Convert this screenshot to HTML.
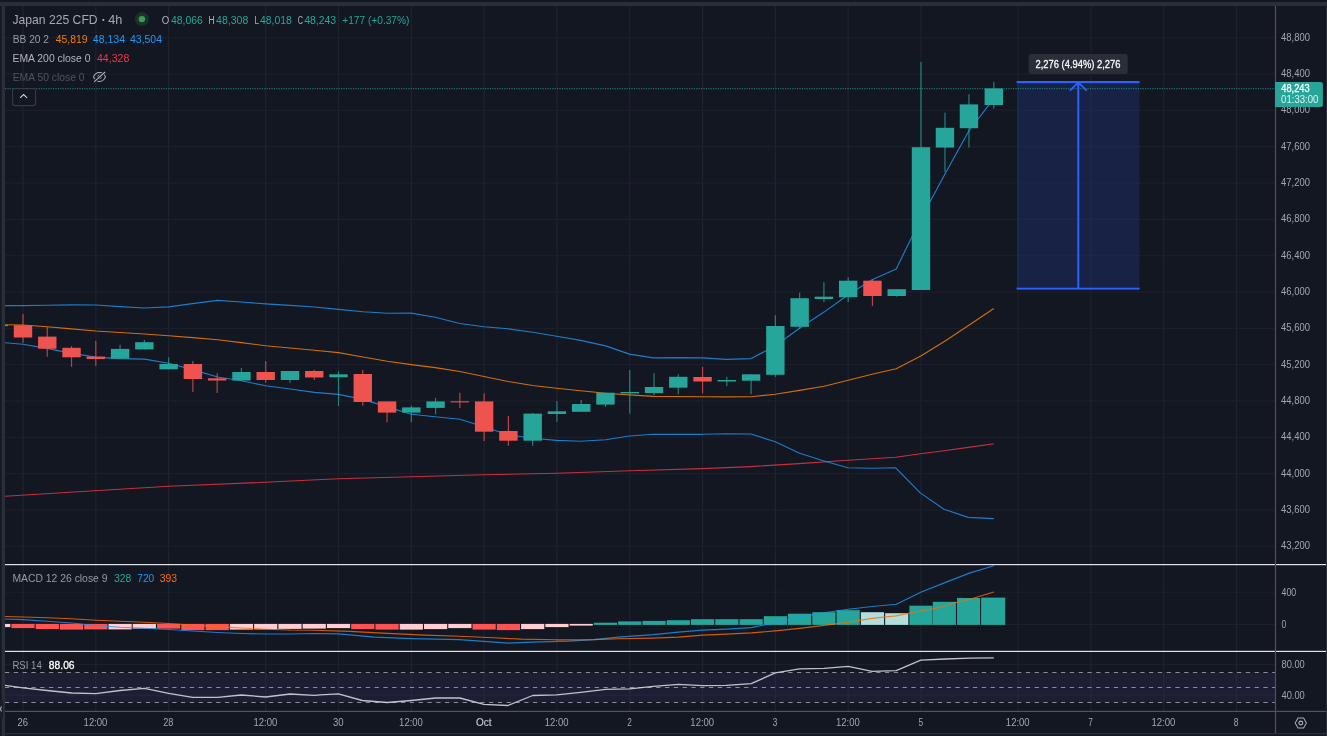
<!DOCTYPE html>
<html><head><meta charset="utf-8"><title>Japan 225 CFD</title>
<style>
html,body{margin:0;padding:0;background:#131722;overflow:hidden}
svg{display:block;font-family:"Liberation Sans",sans-serif}
</style></head>
<body>
<svg width="1327" height="736" viewBox="0 0 1327 736">
<defs><filter id="nf" x="0" y="0" width="100%" height="100%" filterUnits="userSpaceOnUse"><feOffset dx="0" dy="0" color-interpolation-filters="sRGB"/></filter></defs>
<g filter="url(#nf)">
<rect x="0" y="0" width="1327" height="736" fill="#131722"/>
<rect x="0" y="2" width="1327" height="4" fill="#2a2e39"/>
<rect x="1.6" y="2" width="3.5" height="736" fill="#2a2e39"/>
<rect x="1325.8" y="2" width="3" height="736" fill="#2a2e39"/>
<rect x="5" y="6" width="1320.8" height="727" rx="3.5" fill="#131722"/>
<rect x="5" y="400" width="1320.8" height="333" fill="#131722"/>
<rect x="1.6" y="733" width="1327" height="1.3" fill="#2a2e39"/>
<rect x="-2" y="700" width="5" height="18.5" rx="2" fill="#1a1e29"/>
<path d="M-1 706.5 L1.6 711.5 M1.6 706.5 L-1 711.5" stroke="#9ea1aa" stroke-width="1.1" fill="none"/>
<rect x="22.35" y="6" width="1.3" height="705" fill="#1e222d"/>
<rect x="95.16" y="6" width="1.3" height="705" fill="#1e222d"/>
<rect x="167.97" y="6" width="1.3" height="705" fill="#1e222d"/>
<rect x="265.05" y="6" width="1.3" height="705" fill="#1e222d"/>
<rect x="337.86" y="6" width="1.3" height="705" fill="#1e222d"/>
<rect x="410.67" y="6" width="1.3" height="705" fill="#1e222d"/>
<rect x="483.48" y="6" width="1.3" height="705" fill="#1e222d"/>
<rect x="556.29" y="6" width="1.3" height="705" fill="#1e222d"/>
<rect x="629.10" y="6" width="1.3" height="705" fill="#1e222d"/>
<rect x="701.91" y="6" width="1.3" height="705" fill="#1e222d"/>
<rect x="774.72" y="6" width="1.3" height="705" fill="#1e222d"/>
<rect x="847.53" y="6" width="1.3" height="705" fill="#1e222d"/>
<rect x="920.34" y="6" width="1.3" height="705" fill="#1e222d"/>
<rect x="1017.42" y="6" width="1.3" height="705" fill="#1e222d"/>
<rect x="1090.23" y="6" width="1.3" height="705" fill="#1e222d"/>
<rect x="1163.04" y="6" width="1.3" height="705" fill="#1e222d"/>
<rect x="1235.85" y="6" width="1.3" height="705" fill="#1e222d"/>
<rect x="5" y="37.10" width="1270.5" height="1.2" fill="#1c202b"/>
<rect x="5" y="73.43" width="1270.5" height="1.2" fill="#1c202b"/>
<rect x="5" y="109.76" width="1270.5" height="1.2" fill="#1c202b"/>
<rect x="5" y="146.09" width="1270.5" height="1.2" fill="#1c202b"/>
<rect x="5" y="182.42" width="1270.5" height="1.2" fill="#1c202b"/>
<rect x="5" y="218.75" width="1270.5" height="1.2" fill="#1c202b"/>
<rect x="5" y="255.08" width="1270.5" height="1.2" fill="#1c202b"/>
<rect x="5" y="291.41" width="1270.5" height="1.2" fill="#1c202b"/>
<rect x="5" y="327.74" width="1270.5" height="1.2" fill="#1c202b"/>
<rect x="5" y="364.07" width="1270.5" height="1.2" fill="#1c202b"/>
<rect x="5" y="400.40" width="1270.5" height="1.2" fill="#1c202b"/>
<rect x="5" y="436.73" width="1270.5" height="1.2" fill="#1c202b"/>
<rect x="5" y="473.06" width="1270.5" height="1.2" fill="#1c202b"/>
<rect x="5" y="509.39" width="1270.5" height="1.2" fill="#1c202b"/>
<rect x="5" y="545.72" width="1270.5" height="1.2" fill="#1c202b"/>
<rect x="5" y="591.60" width="1270.5" height="1.2" fill="#1c202b"/>
<rect x="5" y="623.90" width="1270.5" height="1.2" fill="#1c202b"/>
<rect x="5" y="663.80" width="1270.5" height="1.2" fill="#1c202b"/>
<rect x="5" y="694.70" width="1270.5" height="1.2" fill="#1c202b"/>
<rect x="5" y="672.5" width="1270.5" height="29.9" fill="#7e57c2" fill-opacity="0.105"/>
<line x1="5" x2="1275.5" y1="672.5" y2="672.5" stroke="#8a8d97" stroke-width="1.05" stroke-dasharray="4.3 4.5"/>
<line x1="5" x2="1275.5" y1="687.4" y2="687.4" stroke="#8a8d97" stroke-width="1.05" stroke-dasharray="4.3 4.5"/>
<line x1="5" x2="1275.5" y1="702.4" y2="702.4" stroke="#8a8d97" stroke-width="1.05" stroke-dasharray="4.3 4.5"/>
<rect x="1016.8" y="82" width="122.8" height="207" fill="#172244"/>
<rect x="1017.42" y="83" width="1.3" height="205" fill="#1f2c4f"/>
<rect x="1090.23" y="83" width="1.3" height="205" fill="#1f2c4f"/>
<rect x="1016.8" y="109.76" width="122.8" height="1.2" fill="#1c294c"/>
<rect x="1016.8" y="146.09" width="122.8" height="1.2" fill="#1c294c"/>
<rect x="1016.8" y="182.42" width="122.8" height="1.2" fill="#1c294c"/>
<rect x="1016.8" y="218.75" width="122.8" height="1.2" fill="#1c294c"/>
<rect x="1016.8" y="255.08" width="122.8" height="1.2" fill="#1c294c"/>
<polyline points="5.0,496.2 94.5,490.7 169.0,486.3 265.0,482.3 338.0,478.8 411.0,476.8 484.0,474.8 557.0,473.3 630.0,470.8 702.4,468.6 751.0,466.6 799.0,463.6 847.8,460.2 895.7,457.2 920.3,453.8 944.0,450.8 968.2,447.4 993.8,443.8" fill="none" stroke="#f23645" stroke-width="1.1" stroke-linejoin="round" stroke-opacity="0.8"/>
<polyline points="5.0,324.8 22.9,325.0 47.0,326.8 71.6,328.9 95.8,331.0 120.0,332.5 144.5,334.0 168.7,335.7 192.5,337.6 217.7,339.7 241.3,342.6 265.7,345.7 290.0,348.0 314.4,350.2 338.4,352.6 363.0,357.0 387.2,361.3 411.3,364.6 435.2,367.6 459.8,371.5 484.0,376.5 508.0,381.5 532.7,385.5 556.6,388.2 580.7,390.7 605.6,393.2 629.5,394.9 653.4,396.4 702.4,396.7 726.3,396.9 751.2,396.7 775.3,394.2 799.5,390.4 824.0,386.2 848.2,380.2 872.0,374.3 896.2,368.8 920.8,356.1 945.5,340.7 970.0,324.5 993.8,308.4" fill="none" stroke="#f57c00" stroke-width="1.15" stroke-linejoin="round" stroke-opacity="0.85"/>
<polyline points="5.0,305.6 22.9,305.6 47.0,305.2 72.0,304.9 95.8,305.0 120.0,306.6 144.3,308.0 168.7,306.9 192.5,303.6 217.7,300.4 241.3,302.0 265.7,303.9 290.0,305.4 314.4,307.0 338.4,309.4 363.0,311.8 387.2,313.3 411.3,313.1 435.2,317.3 459.8,323.5 484.0,326.8 508.0,328.8 532.7,332.2 556.6,336.2 580.7,340.4 605.6,345.9 629.5,354.1 653.4,357.9 678.3,357.6 702.4,357.9 726.3,359.4 751.2,358.6 775.3,345.7 799.5,328.3 824.0,312.1 848.2,294.7 872.0,279.8 896.2,269.0 920.7,219.0 945.0,174.0 968.8,131.0 993.8,98.7" fill="none" stroke="#2196f3" stroke-width="1.15" stroke-linejoin="round" stroke-opacity="0.8"/>
<polyline points="5.0,342.7 22.9,344.2 47.0,348.4 71.6,353.4 95.8,357.1 119.9,358.6 144.5,359.1 168.7,363.3 192.5,369.6 217.7,377.0 241.3,380.7 265.7,385.7 290.3,389.0 314.4,392.4 338.4,394.4 363.0,399.4 387.2,406.9 411.3,414.3 435.2,416.8 459.8,419.3 484.0,426.8 508.0,434.7 532.7,438.2 556.6,440.4 580.7,441.2 605.6,439.7 629.5,436.0 653.4,434.3 678.2,434.3 702.4,434.3 726.4,433.7 751.0,434.0 775.3,441.8 799.0,453.0 823.2,460.8 847.8,467.8 871.5,468.3 895.7,467.8 920.3,492.9 944.0,509.3 968.2,517.4 993.8,518.6" fill="none" stroke="#2196f3" stroke-width="1.15" stroke-linejoin="round" stroke-opacity="0.8"/>
<clipPath id="cc"><rect x="5" y="6" width="1270.5" height="727"/></clipPath>
<g clip-path="url(#cc)">
<rect x="-1.87" y="320.0" width="1.2" height="10.0" fill="#26a69a" opacity="0.75"/>
<rect x="-10.47" y="325.0" width="18.4" height="1.2" fill="#26a69a"/>
<rect x="22.40" y="313.9" width="1.2" height="29.0" fill="#ef5350" opacity="0.75"/>
<rect x="13.80" y="325.2" width="18.4" height="12.3" fill="#ef5350"/>
<rect x="46.67" y="327.2" width="1.2" height="29.5" fill="#ef5350" opacity="0.75"/>
<rect x="38.07" y="336.6" width="18.4" height="12.1" fill="#ef5350"/>
<rect x="70.94" y="346.0" width="1.2" height="20.8" fill="#ef5350" opacity="0.75"/>
<rect x="62.34" y="347.8" width="18.4" height="9.5" fill="#ef5350"/>
<rect x="95.21" y="340.8" width="1.2" height="25.2" fill="#ef5350" opacity="0.75"/>
<rect x="86.61" y="356.6" width="18.4" height="2.4" fill="#ef5350"/>
<rect x="119.48" y="344.7" width="1.2" height="13.9" fill="#26a69a" opacity="0.75"/>
<rect x="110.88" y="348.9" width="18.4" height="9.7" fill="#26a69a"/>
<rect x="143.75" y="340.0" width="1.2" height="9.4" fill="#26a69a" opacity="0.75"/>
<rect x="135.15" y="342.2" width="18.4" height="7.2" fill="#26a69a"/>
<rect x="168.02" y="357.4" width="1.2" height="11.9" fill="#26a69a" opacity="0.75"/>
<rect x="159.42" y="364.0" width="18.4" height="5.3" fill="#26a69a"/>
<rect x="192.29" y="361.0" width="1.2" height="31.0" fill="#ef5350" opacity="0.75"/>
<rect x="183.69" y="364.0" width="18.4" height="15.0" fill="#ef5350"/>
<rect x="216.56" y="373.3" width="1.2" height="19.7" fill="#ef5350" opacity="0.75"/>
<rect x="207.96" y="378.3" width="18.4" height="2.2" fill="#ef5350"/>
<rect x="240.83" y="368.0" width="1.2" height="12.5" fill="#26a69a" opacity="0.75"/>
<rect x="232.23" y="372.0" width="18.4" height="8.5" fill="#26a69a"/>
<rect x="265.10" y="361.0" width="1.2" height="21.7" fill="#ef5350" opacity="0.75"/>
<rect x="256.50" y="372.0" width="18.4" height="8.0" fill="#ef5350"/>
<rect x="289.37" y="371.0" width="1.2" height="11.7" fill="#26a69a" opacity="0.75"/>
<rect x="280.77" y="371.0" width="18.4" height="9.0" fill="#26a69a"/>
<rect x="313.64" y="369.8" width="1.2" height="10.2" fill="#ef5350" opacity="0.75"/>
<rect x="305.04" y="371.0" width="18.4" height="6.5" fill="#ef5350"/>
<rect x="337.91" y="371.3" width="1.2" height="34.7" fill="#26a69a" opacity="0.75"/>
<rect x="329.31" y="374.3" width="18.4" height="3.0" fill="#26a69a"/>
<rect x="362.18" y="370.0" width="1.2" height="35.6" fill="#ef5350" opacity="0.75"/>
<rect x="353.58" y="374.0" width="18.4" height="28.0" fill="#ef5350"/>
<rect x="386.45" y="401.4" width="1.2" height="20.9" fill="#ef5350" opacity="0.75"/>
<rect x="377.85" y="401.4" width="18.4" height="11.2" fill="#ef5350"/>
<rect x="410.72" y="405.6" width="1.2" height="16.7" fill="#26a69a" opacity="0.75"/>
<rect x="402.12" y="407.4" width="18.4" height="5.2" fill="#26a69a"/>
<rect x="434.99" y="398.0" width="1.2" height="16.3" fill="#26a69a" opacity="0.75"/>
<rect x="426.39" y="401.4" width="18.4" height="6.5" fill="#26a69a"/>
<rect x="459.26" y="392.7" width="1.2" height="15.3" fill="#ef5350" opacity="0.75"/>
<rect x="450.66" y="401.3" width="18.4" height="1.1" fill="#ef5350"/>
<rect x="483.53" y="393.4" width="1.2" height="47.6" fill="#ef5350" opacity="0.75"/>
<rect x="474.93" y="401.4" width="18.4" height="30.3" fill="#ef5350"/>
<rect x="507.80" y="416.0" width="1.2" height="29.7" fill="#ef5350" opacity="0.75"/>
<rect x="499.20" y="431.0" width="18.4" height="9.7" fill="#ef5350"/>
<rect x="532.07" y="413.0" width="1.2" height="32.7" fill="#26a69a" opacity="0.75"/>
<rect x="523.47" y="413.6" width="18.4" height="27.1" fill="#26a69a"/>
<rect x="556.34" y="401.0" width="1.2" height="20.8" fill="#26a69a" opacity="0.75"/>
<rect x="547.74" y="411.3" width="18.4" height="2.7" fill="#26a69a"/>
<rect x="580.61" y="400.0" width="1.2" height="11.8" fill="#26a69a" opacity="0.75"/>
<rect x="572.01" y="404.0" width="18.4" height="7.8" fill="#26a69a"/>
<rect x="604.88" y="392.7" width="1.2" height="14.3" fill="#26a69a" opacity="0.75"/>
<rect x="596.28" y="392.7" width="18.4" height="11.9" fill="#26a69a"/>
<rect x="629.15" y="370.0" width="1.2" height="43.6" fill="#26a69a" opacity="0.75"/>
<rect x="620.55" y="392.0" width="18.4" height="1.4" fill="#26a69a"/>
<rect x="653.42" y="373.3" width="1.2" height="22.1" fill="#26a69a" opacity="0.75"/>
<rect x="644.82" y="387.0" width="18.4" height="6.0" fill="#26a69a"/>
<rect x="677.69" y="374.3" width="1.2" height="19.9" fill="#26a69a" opacity="0.75"/>
<rect x="669.09" y="376.8" width="18.4" height="10.9" fill="#26a69a"/>
<rect x="701.96" y="367.0" width="1.2" height="26.4" fill="#ef5350" opacity="0.75"/>
<rect x="693.36" y="377.0" width="18.4" height="4.5" fill="#ef5350"/>
<rect x="726.23" y="376.8" width="1.2" height="9.4" fill="#26a69a" opacity="0.75"/>
<rect x="717.63" y="380.0" width="18.4" height="1.5" fill="#26a69a"/>
<rect x="750.50" y="374.3" width="1.2" height="19.9" fill="#26a69a" opacity="0.75"/>
<rect x="741.90" y="374.3" width="18.4" height="6.4" fill="#26a69a"/>
<rect x="774.77" y="315.3" width="1.2" height="61.5" fill="#26a69a" opacity="0.75"/>
<rect x="766.17" y="326.0" width="18.4" height="48.8" fill="#26a69a"/>
<rect x="799.04" y="292.7" width="1.2" height="36.3" fill="#26a69a" opacity="0.75"/>
<rect x="790.44" y="298.2" width="18.4" height="28.6" fill="#26a69a"/>
<rect x="823.31" y="282.2" width="1.2" height="19.8" fill="#26a69a" opacity="0.75"/>
<rect x="814.71" y="296.7" width="18.4" height="2.3" fill="#26a69a"/>
<rect x="847.58" y="277.3" width="1.2" height="24.7" fill="#26a69a" opacity="0.75"/>
<rect x="838.98" y="280.7" width="18.4" height="16.5" fill="#26a69a"/>
<rect x="871.85" y="279.8" width="1.2" height="26.1" fill="#ef5350" opacity="0.75"/>
<rect x="863.25" y="280.7" width="18.4" height="15.3" fill="#ef5350"/>
<rect x="896.12" y="289.2" width="1.2" height="7.5" fill="#26a69a" opacity="0.75"/>
<rect x="887.52" y="289.2" width="18.4" height="6.8" fill="#26a69a"/>
<rect x="920.39" y="62.0" width="1.2" height="228.0" fill="#26a69a" opacity="0.75"/>
<rect x="911.79" y="147.2" width="18.4" height="142.8" fill="#26a69a"/>
<rect x="944.36" y="112.7" width="1.2" height="59.3" fill="#26a69a" opacity="0.75"/>
<rect x="935.76" y="127.8" width="18.4" height="19.8" fill="#26a69a"/>
<rect x="968.33" y="94.3" width="1.2" height="53.2" fill="#26a69a" opacity="0.75"/>
<rect x="959.73" y="104.4" width="18.4" height="23.8" fill="#26a69a"/>
<rect x="993.20" y="81.8" width="1.2" height="26.8" fill="#26a69a" opacity="0.75"/>
<rect x="984.60" y="88.4" width="18.4" height="16.6" fill="#26a69a"/>
</g>
<line x1="5" x2="1275.5" y1="88.6" y2="88.6" stroke="#26a69a" stroke-width="1.2" stroke-dasharray="1.2 1.2" opacity="0.62"/>
<rect x="1016.6" y="81" width="123" height="2.2" fill="#2962ff"/>
<rect x="1016.6" y="287.7" width="123" height="1.9" fill="#2962ff"/>
<rect x="1077.3" y="82" width="2" height="206" fill="#2962ff"/>
<path d="M1069.8 90.6 L1078.3 82.6 L1086.8 90.6" stroke="#2962ff" stroke-width="1.9" fill="none"/>
<rect x="1028.7" y="54" width="99.1" height="19.9" rx="3" fill="#2a2e39"/>
<text x="1035.50" y="67.50" font-size="11" fill="#ffffff" font-weight="normal" textLength="85.00" lengthAdjust="spacingAndGlyphs" stroke="#ffffff" stroke-width="0.3" stroke-opacity="0.9">2,276 (4.94%) 2,276</text>
<g clip-path="url(#cc)">
<rect x="-12.87" y="623.9" width="23.20" height="3.2" fill="#ffcdd2"/>
<rect x="11.40" y="623.9" width="23.20" height="4.2" fill="#ff5252"/>
<rect x="35.67" y="623.9" width="23.20" height="5.2" fill="#ff5252"/>
<rect x="59.94" y="623.9" width="23.20" height="5.7" fill="#ff5252"/>
<rect x="84.21" y="623.9" width="23.20" height="5.5" fill="#ff5252"/>
<rect x="108.48" y="623.9" width="23.20" height="5.5" fill="#ffcdd2"/>
<rect x="132.75" y="623.9" width="23.20" height="4.7" fill="#ffcdd2"/>
<rect x="157.02" y="623.9" width="23.20" height="4.7" fill="#ff5252"/>
<rect x="181.29" y="623.9" width="23.20" height="6.2" fill="#ff5252"/>
<rect x="205.56" y="623.9" width="23.20" height="6.2" fill="#ff5252"/>
<rect x="229.83" y="623.9" width="23.20" height="5.7" fill="#ffcdd2"/>
<rect x="254.10" y="623.9" width="23.20" height="5.5" fill="#ffcdd2"/>
<rect x="278.37" y="623.9" width="23.20" height="5.0" fill="#ffcdd2"/>
<rect x="302.64" y="623.9" width="23.20" height="4.7" fill="#ffcdd2"/>
<rect x="326.91" y="623.9" width="23.20" height="4.2" fill="#ffcdd2"/>
<rect x="351.18" y="623.9" width="23.20" height="5.2" fill="#ff5252"/>
<rect x="375.45" y="623.9" width="23.20" height="5.7" fill="#ff5252"/>
<rect x="399.72" y="623.9" width="23.20" height="5.7" fill="#ffcdd2"/>
<rect x="423.99" y="623.9" width="23.20" height="5.2" fill="#ffcdd2"/>
<rect x="448.26" y="623.9" width="23.20" height="4.2" fill="#ffcdd2"/>
<rect x="472.53" y="623.9" width="23.20" height="5.7" fill="#ff5252"/>
<rect x="496.80" y="623.9" width="23.20" height="6.2" fill="#ff5252"/>
<rect x="521.07" y="623.9" width="23.20" height="5.2" fill="#ffcdd2"/>
<rect x="545.34" y="623.9" width="23.20" height="3.2" fill="#ffcdd2"/>
<rect x="569.61" y="623.9" width="23.20" height="1.7" fill="#ffcdd2"/>
<rect x="593.88" y="622.7" width="23.20" height="2.2" fill="#26a69a"/>
<rect x="618.15" y="621.4" width="23.20" height="3.5" fill="#26a69a"/>
<rect x="642.42" y="620.9" width="23.20" height="4.0" fill="#26a69a"/>
<rect x="666.69" y="620.2" width="23.20" height="4.7" fill="#26a69a"/>
<rect x="690.96" y="619.2" width="23.20" height="5.7" fill="#26a69a"/>
<rect x="715.23" y="619.2" width="23.20" height="5.7" fill="#26a69a"/>
<rect x="739.50" y="619.2" width="23.20" height="5.7" fill="#26a69a"/>
<rect x="763.77" y="616.2" width="23.20" height="8.7" fill="#26a69a"/>
<rect x="788.04" y="613.7" width="23.20" height="11.2" fill="#26a69a"/>
<rect x="812.31" y="612.2" width="23.20" height="12.7" fill="#26a69a"/>
<rect x="836.58" y="610.2" width="23.20" height="14.7" fill="#26a69a"/>
<rect x="860.85" y="612.2" width="23.20" height="12.7" fill="#b2dfdb"/>
<rect x="885.12" y="613.2" width="23.20" height="11.7" fill="#b2dfdb"/>
<rect x="909.39" y="605.7" width="23.20" height="19.2" fill="#26a69a"/>
<rect x="932.80" y="601.8" width="23.15" height="23.1" fill="#26a69a"/>
<rect x="957.00" y="598.0" width="23.10" height="26.9" fill="#26a69a"/>
<rect x="981.10" y="597.6" width="24.10" height="27.3" fill="#26a69a"/>
</g>
<polyline points="5.0,619.0 23.0,619.6 47.0,621.3 71.6,623.0 96.0,625.5 120.0,627.3 144.5,628.3 168.7,629.5 192.5,631.0 217.7,632.5 241.3,633.5 265.7,634.0 290.0,634.0 314.4,633.5 338.4,633.9 374.7,637.1 412.0,638.6 459.3,639.6 508.1,643.1 531.4,642.1 568.8,641.1 593.6,639.6 618.5,637.1 653.4,634.6 678.3,632.1 702.4,630.1 726.3,629.1 751.2,627.6 775.3,622.7 799.5,617.2 824.1,612.7 848.2,609.2 872.1,606.5 896.2,604.3 920.8,592.3 945.5,582.4 970.1,572.9 993.8,565.8" fill="none" stroke="#2196f3" stroke-width="1.15" stroke-linejoin="round" stroke-opacity="0.8"/>
<polyline points="5.0,616.5 23.0,617.0 47.0,617.8 71.6,618.8 96.0,620.2 120.0,621.3 144.5,622.3 168.7,623.5 192.5,625.0 217.7,626.6 241.3,628.0 265.7,629.2 290.0,630.0 314.4,630.2 349.9,631.4 387.2,633.4 424.5,635.1 459.3,636.3 494.1,637.8 521.5,639.1 556.3,639.8 593.6,639.6 618.5,638.8 653.4,638.1 678.3,637.1 702.4,635.1 726.3,634.1 751.2,632.9 775.3,630.9 799.5,628.4 824.1,625.4 848.2,622.2 872.1,618.4 896.2,615.9 913.6,612.2 938.5,607.7 957.4,602.3 970.1,599.3 993.8,592.0" fill="none" stroke="#ff6d00" stroke-width="1.15" stroke-linejoin="round" stroke-opacity="0.8"/>
<polyline points="5.0,685.3 23.0,687.8 47.0,690.5 71.6,693.0 95.8,693.7 120.0,690.5 144.5,688.3 168.7,693.3 192.5,697.3 217.7,697.3 241.3,695.0 265.7,697.0 290.0,694.0 314.4,695.3 320.0,694.8 338.4,693.8 362.3,700.5 387.2,702.5 411.3,700.5 435.7,698.0 459.8,698.0 483.9,704.3 508.1,705.5 532.7,695.5 556.6,694.8 580.7,692.3 605.6,689.3 629.5,688.8 653.4,686.3 678.3,684.4 702.4,685.6 726.3,685.3 751.2,683.6 775.3,672.9 799.5,668.9 824.1,668.4 848.2,666.4 872.1,671.4 896.2,670.7 920.8,660.2 945.5,659.0 970.1,658.2 993.8,657.9" fill="none" stroke="#d4d5d9" stroke-width="1.3" stroke-linejoin="round" stroke-opacity="0.9"/>
<rect x="5" y="564.0" width="1321" height="1.2" fill="#e0e3eb"/>
<rect x="5" y="650.8" width="1321" height="1.2" fill="#e0e3eb"/>
<rect x="5" y="710.8" width="1321" height="1.2" fill="#50535e"/>
<rect x="1274.9" y="6" width="1.2" height="727" fill="#50535e"/>
<text x="1281.10" y="40.60" font-size="10" fill="#a3a6af" font-weight="normal" textLength="28.90" lengthAdjust="spacingAndGlyphs" >48,800</text>
<text x="1281.10" y="76.93" font-size="10" fill="#a3a6af" font-weight="normal" textLength="28.90" lengthAdjust="spacingAndGlyphs" >48,400</text>
<text x="1281.10" y="113.26" font-size="10" fill="#a3a6af" font-weight="normal" textLength="28.90" lengthAdjust="spacingAndGlyphs" >48,000</text>
<text x="1281.10" y="149.59" font-size="10" fill="#a3a6af" font-weight="normal" textLength="28.90" lengthAdjust="spacingAndGlyphs" >47,600</text>
<text x="1281.10" y="185.92" font-size="10" fill="#a3a6af" font-weight="normal" textLength="28.90" lengthAdjust="spacingAndGlyphs" >47,200</text>
<text x="1281.10" y="222.25" font-size="10" fill="#a3a6af" font-weight="normal" textLength="28.90" lengthAdjust="spacingAndGlyphs" >46,800</text>
<text x="1281.10" y="258.58" font-size="10" fill="#a3a6af" font-weight="normal" textLength="28.90" lengthAdjust="spacingAndGlyphs" >46,400</text>
<text x="1281.10" y="294.91" font-size="10" fill="#a3a6af" font-weight="normal" textLength="28.90" lengthAdjust="spacingAndGlyphs" >46,000</text>
<text x="1281.10" y="331.24" font-size="10" fill="#a3a6af" font-weight="normal" textLength="28.90" lengthAdjust="spacingAndGlyphs" >45,600</text>
<text x="1281.10" y="367.57" font-size="10" fill="#a3a6af" font-weight="normal" textLength="28.90" lengthAdjust="spacingAndGlyphs" >45,200</text>
<text x="1281.10" y="403.90" font-size="10" fill="#a3a6af" font-weight="normal" textLength="28.90" lengthAdjust="spacingAndGlyphs" >44,800</text>
<text x="1281.10" y="440.23" font-size="10" fill="#a3a6af" font-weight="normal" textLength="28.90" lengthAdjust="spacingAndGlyphs" >44,400</text>
<text x="1281.10" y="476.56" font-size="10" fill="#a3a6af" font-weight="normal" textLength="28.90" lengthAdjust="spacingAndGlyphs" >44,000</text>
<text x="1281.10" y="512.89" font-size="10" fill="#a3a6af" font-weight="normal" textLength="28.90" lengthAdjust="spacingAndGlyphs" >43,600</text>
<text x="1281.10" y="549.22" font-size="10" fill="#a3a6af" font-weight="normal" textLength="28.90" lengthAdjust="spacingAndGlyphs" >43,200</text>
<text x="1281.50" y="595.70" font-size="10" fill="#a3a6af" font-weight="normal" textLength="14.70" lengthAdjust="spacingAndGlyphs" >400</text>
<text x="1281.50" y="628.30" font-size="10" fill="#a3a6af" font-weight="normal" textLength="4.70" lengthAdjust="spacingAndGlyphs" >0</text>
<text x="1281.50" y="668.30" font-size="10" fill="#a3a6af" font-weight="normal" textLength="23.30" lengthAdjust="spacingAndGlyphs" >80.00</text>
<text x="1281.50" y="698.60" font-size="10" fill="#a3a6af" font-weight="normal" textLength="23.30" lengthAdjust="spacingAndGlyphs" >40.00</text>
<path d="M1275 82 H1320.4 a2.5 2.5 0 0 1 2.5 2.5 V104.4 a2.5 2.5 0 0 1 -2.5 2.5 H1275 Z" fill="#26a69a"/>
<text x="1281.30" y="92.10" font-size="10" fill="#ffffff" font-weight="normal" textLength="28.30" lengthAdjust="spacingAndGlyphs" stroke="#ffffff" stroke-width="0.3" stroke-opacity="0.9">48,243</text>
<text x="1281.10" y="103.00" font-size="10" fill="#dff3f0" font-weight="normal" textLength="37.20" lengthAdjust="spacingAndGlyphs" >01:33:00</text>
<text x="17.50" y="726.10" font-size="11" fill="#a3a6af" font-weight="normal" textLength="10.40" lengthAdjust="spacingAndGlyphs" >26</text>
<text x="83.61" y="726.10" font-size="11" fill="#a3a6af" font-weight="normal" textLength="23.80" lengthAdjust="spacingAndGlyphs" >12:00</text>
<text x="163.22" y="726.10" font-size="11" fill="#a3a6af" font-weight="normal" textLength="10.20" lengthAdjust="spacingAndGlyphs" >28</text>
<text x="253.50" y="726.10" font-size="11" fill="#a3a6af" font-weight="normal" textLength="23.80" lengthAdjust="spacingAndGlyphs" >12:00</text>
<text x="332.91" y="726.10" font-size="11" fill="#a3a6af" font-weight="normal" textLength="10.60" lengthAdjust="spacingAndGlyphs" >30</text>
<text x="399.12" y="726.10" font-size="11" fill="#a3a6af" font-weight="normal" textLength="23.80" lengthAdjust="spacingAndGlyphs" >12:00</text>
<text x="476.03" y="726.10" font-size="11" fill="#c6c9d1" font-weight="normal" textLength="15.60" lengthAdjust="spacingAndGlyphs" stroke="#c6c9d1" stroke-width="0.15">Oct</text>
<text x="544.74" y="726.10" font-size="11" fill="#a3a6af" font-weight="normal" textLength="23.80" lengthAdjust="spacingAndGlyphs" >12:00</text>
<text x="627.15" y="726.10" font-size="11" fill="#a3a6af" font-weight="normal" textLength="4.60" lengthAdjust="spacingAndGlyphs" >2</text>
<text x="690.36" y="726.10" font-size="11" fill="#a3a6af" font-weight="normal" textLength="23.80" lengthAdjust="spacingAndGlyphs" >12:00</text>
<text x="772.77" y="726.10" font-size="11" fill="#a3a6af" font-weight="normal" textLength="4.60" lengthAdjust="spacingAndGlyphs" >3</text>
<text x="835.98" y="726.10" font-size="11" fill="#a3a6af" font-weight="normal" textLength="23.80" lengthAdjust="spacingAndGlyphs" >12:00</text>
<text x="918.39" y="726.10" font-size="11" fill="#a3a6af" font-weight="normal" textLength="4.60" lengthAdjust="spacingAndGlyphs" >5</text>
<text x="1005.87" y="726.10" font-size="11" fill="#a3a6af" font-weight="normal" textLength="23.80" lengthAdjust="spacingAndGlyphs" >12:00</text>
<text x="1088.28" y="726.10" font-size="11" fill="#a3a6af" font-weight="normal" textLength="4.60" lengthAdjust="spacingAndGlyphs" >7</text>
<text x="1151.49" y="726.10" font-size="11" fill="#a3a6af" font-weight="normal" textLength="23.80" lengthAdjust="spacingAndGlyphs" >12:00</text>
<text x="1233.80" y="726.10" font-size="11" fill="#a3a6af" font-weight="normal" textLength="4.80" lengthAdjust="spacingAndGlyphs" >8</text>
<path d="M1295.2 723.0 L1298.0 718.0 H1303.6 L1306.3999999999999 723.0 L1303.6 728.0 H1298.0 Z" fill="none" stroke="#a6a9b2" stroke-width="1.05" stroke-linejoin="round"/>
<circle cx="1300.8" cy="723.0" r="1.9" fill="none" stroke="#b2b5be" stroke-width="1.1"/>
<text x="12.50" y="24.00" font-size="12.6" fill="#a6a9b2" font-weight="normal" textLength="85.10" lengthAdjust="spacingAndGlyphs" >Japan 225 CFD</text>
<rect x="102.5" y="19.0" width="1.7" height="1.8" fill="#b8bbc4"/>
<text x="108.20" y="24.00" font-size="12.6" fill="#a6a9b2" font-weight="normal" textLength="14.10" lengthAdjust="spacingAndGlyphs" >4h</text>
<circle cx="141.9" cy="19.1" r="7" fill="#1b3229"/>
<circle cx="141.9" cy="19.1" r="3.2" fill="#3c9d56"/>
<text x="161.80" y="23.60" font-size="10.0" fill="#b2b5be" font-weight="normal" textLength="7.50" lengthAdjust="spacingAndGlyphs" >O</text>
<text x="171.00" y="23.60" font-size="10.0" fill="#26a69a" font-weight="normal" textLength="31.90" lengthAdjust="spacingAndGlyphs" >48,066</text>
<text x="208.60" y="23.60" font-size="10.0" fill="#b2b5be" font-weight="normal" textLength="6.10" lengthAdjust="spacingAndGlyphs" >H</text>
<text x="216.10" y="23.60" font-size="10.0" fill="#26a69a" font-weight="normal" textLength="32.20" lengthAdjust="spacingAndGlyphs" >48,308</text>
<text x="254.40" y="23.60" font-size="10.0" fill="#b2b5be" font-weight="normal" textLength="4.50" lengthAdjust="spacingAndGlyphs" >L</text>
<text x="259.90" y="23.60" font-size="10.0" fill="#26a69a" font-weight="normal" textLength="31.90" lengthAdjust="spacingAndGlyphs" >48,018</text>
<text x="297.70" y="23.60" font-size="10.0" fill="#b2b5be" font-weight="normal" textLength="5.30" lengthAdjust="spacingAndGlyphs" >C</text>
<text x="304.20" y="23.60" font-size="10.0" fill="#26a69a" font-weight="normal" textLength="32.00" lengthAdjust="spacingAndGlyphs" >48,243</text>
<text x="342.30" y="23.60" font-size="10.0" fill="#26a69a" font-weight="normal" textLength="67.10" lengthAdjust="spacingAndGlyphs" >+177 (+0.37%)</text>
<text x="12.80" y="43.00" font-size="10.0" fill="#989ba4" font-weight="normal" textLength="36.20" lengthAdjust="spacingAndGlyphs" >BB 20 2</text>
<text x="55.70" y="43.00" font-size="10.0" fill="#f57c00" font-weight="normal" textLength="31.80" lengthAdjust="spacingAndGlyphs" >45,819</text>
<text x="92.80" y="43.00" font-size="10.0" fill="#2196f3" font-weight="normal" textLength="32.20" lengthAdjust="spacingAndGlyphs" >48,134</text>
<text x="130.00" y="43.00" font-size="10.0" fill="#2196f3" font-weight="normal" textLength="32.00" lengthAdjust="spacingAndGlyphs" >43,504</text>
<text x="12.50" y="62.20" font-size="10.0" fill="#b2b5be" font-weight="normal" textLength="78.00" lengthAdjust="spacingAndGlyphs" >EMA 200 close 0</text>
<text x="97.00" y="62.20" font-size="10.0" fill="#f23645" font-weight="normal" textLength="32.30" lengthAdjust="spacingAndGlyphs" >44,328</text>
<text x="12.70" y="81.00" font-size="10.0" fill="#50535e" font-weight="normal" textLength="71.90" lengthAdjust="spacingAndGlyphs" >EMA 50 close 0</text>
<path d="M93.5 76.9 C95.9 70.9 103.1 70.9 105.5 76.9 C103.1 82.9 95.9 82.9 93.5 76.9 Z" fill="none" stroke="#b2b5be" stroke-width="1.05"/>
<circle cx="99.5" cy="76.9" r="1.7" fill="none" stroke="#b2b5be" stroke-width="1.0"/>
<path d="M94.1 81.80000000000001 L105.1 72.0" stroke="#131722" stroke-width="2.8"/>
<path d="M94.1 81.80000000000001 L105.1 72.0" stroke="#b2b5be" stroke-width="1.05"/>
<rect x="12.6" y="88.6" width="23" height="17" rx="2" fill="#131722" stroke="#363a45" stroke-width="1.1"/>
<path d="M20.1 97.8 L23.6 94.6 L27.1 97.8" fill="none" stroke="#d1d4dc" stroke-width="1.15"/>
<text x="12.40" y="582.30" font-size="10.0" fill="#989ba4" font-weight="normal" textLength="95.10" lengthAdjust="spacingAndGlyphs" >MACD 12 26 close 9</text>
<text x="114.00" y="582.30" font-size="10.0" fill="#26a69a" font-weight="normal" textLength="17.30" lengthAdjust="spacingAndGlyphs" >328</text>
<text x="137.30" y="582.30" font-size="10.0" fill="#2196f3" font-weight="normal" textLength="16.90" lengthAdjust="spacingAndGlyphs" >720</text>
<text x="159.70" y="582.30" font-size="10.0" fill="#ff6d00" font-weight="normal" textLength="17.30" lengthAdjust="spacingAndGlyphs" >393</text>
<text x="12.40" y="669.00" font-size="10.0" fill="#989ba4" font-weight="normal" textLength="29.40" lengthAdjust="spacingAndGlyphs" >RSI 14</text>
<text x="48.80" y="669.00" font-size="10.0" fill="#ffffff" font-weight="normal" textLength="25.80" lengthAdjust="spacingAndGlyphs" stroke="#ffffff" stroke-width="0.3" stroke-opacity="0.9">88.06</text>
</g>
</svg>
</body></html>
